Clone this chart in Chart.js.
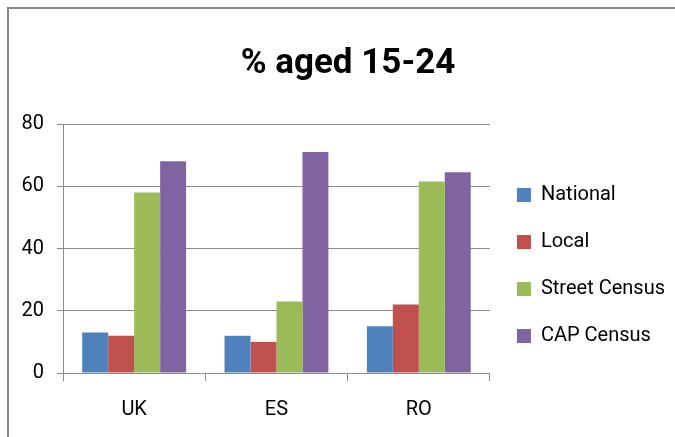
<!DOCTYPE html>
<html>
<head>
<meta charset="utf-8">
<script src="https://cdn.jsdelivr.net/npm/chart.js@4.4.1/dist/chart.umd.min.js"></script>
<style>
    body { margin: 0; background: #fff; }
    #wrap { position: relative; width: 675px; height: 437px; overflow: hidden; }
    #frame { position: absolute; left: 7px; top: 7px; width: 680px; height: 440px;
             border-top: 2px solid #878787; border-left: 2px solid #878787; }
    #chart { position: absolute; left: 0; top: 0; }
</style>
</head>
<body>
<div id="wrap">
    <div id="frame"></div>
    <canvas id="chart" width="675" height="437"></canvas>
</div>
<script>
// Data
const countries = ['UK', 'ES', 'RO'];
const nationalValues = [13, 12, 15];
const localValues = [12, 10, 22];
const streetCensusValues = [58, 23, 61.5];
const capCensusValues = [68, 71, 64.5];
const yTicks = [0, 20, 40, 60, 80];

const FONT = 'Roboto, "Liberation Sans", sans-serif';
const GRID = '#8c8c8c';

let pctChart;

function renderPctChart() {
    const ctx = document.getElementById('chart');
    if (!ctx) return;

    pctChart = new Chart(ctx, {
        type: 'bar',
        data: {
            labels: countries,
            datasets: [
                { label: 'National', data: nationalValues, backgroundColor: '#4F81BD' },
                { label: 'Local', data: localValues, backgroundColor: '#C0504D' },
                { label: 'Street Census', data: streetCensusValues, backgroundColor: '#9BBB59' },
                { label: 'CAP Census', data: capCensusValues, backgroundColor: '#8064A2' }
            ]
        },
        options: {
            responsive: false,
            animation: false,
            layout: {
                padding: { left: 21, right: 0, top: 0, bottom: -2 }
            },
            datasets: {
                bar: { categoryPercentage: 0.73, barPercentage: 1 }
            },
            plugins: {
                title: {
                    display: true,
                    text: '% aged 15-24',
                    color: '#000',
                    font: { family: FONT, size: 35, weight: 'bold', lineHeight: 1.2 },
                    padding: { top: 43, bottom: 39 }
                },
                legend: {
                    position: 'right',
                    align: 'end',
                    fullSize: false,
                    maxWidth: 220,
                    labels: {
                        color: '#000',
                        font: { family: FONT, size: 20 },
                        boxWidth: 14,
                        boxHeight: 14,
                        padding: 27
                    }
                },
                tooltip: { enabled: false }
            },
            scales: {
                x: {
                    grid: {
                        offset: true,
                        drawOnChartArea: false,
                        drawTicks: true,
                        tickLength: 8,
                        color: GRID
                    },
                    border: { display: true, color: GRID },
                    ticks: {
                        color: '#000',
                        padding: 17,
                        font: { family: FONT, size: 20, lineHeight: 1.2 }
                    }
                },
                y: {
                    min: 0,
                    max: 80,
                    afterFit: function(scale) { scale.width = 42; },
                    afterBuildTicks: function(scale) {
                        scale.ticks = yTicks.map(v => ({ value: v }));
                    },
                    grid: {
                        color: GRID,
                        tickLength: 6
                    },
                    border: { display: true, color: GRID },
                    ticks: {
                        color: '#000',
                        padding: 13,
                        font: { family: FONT, size: 20 }
                    }
                }
            }
        }
    });
}

renderPctChart();
</script>
</body>
</html>
